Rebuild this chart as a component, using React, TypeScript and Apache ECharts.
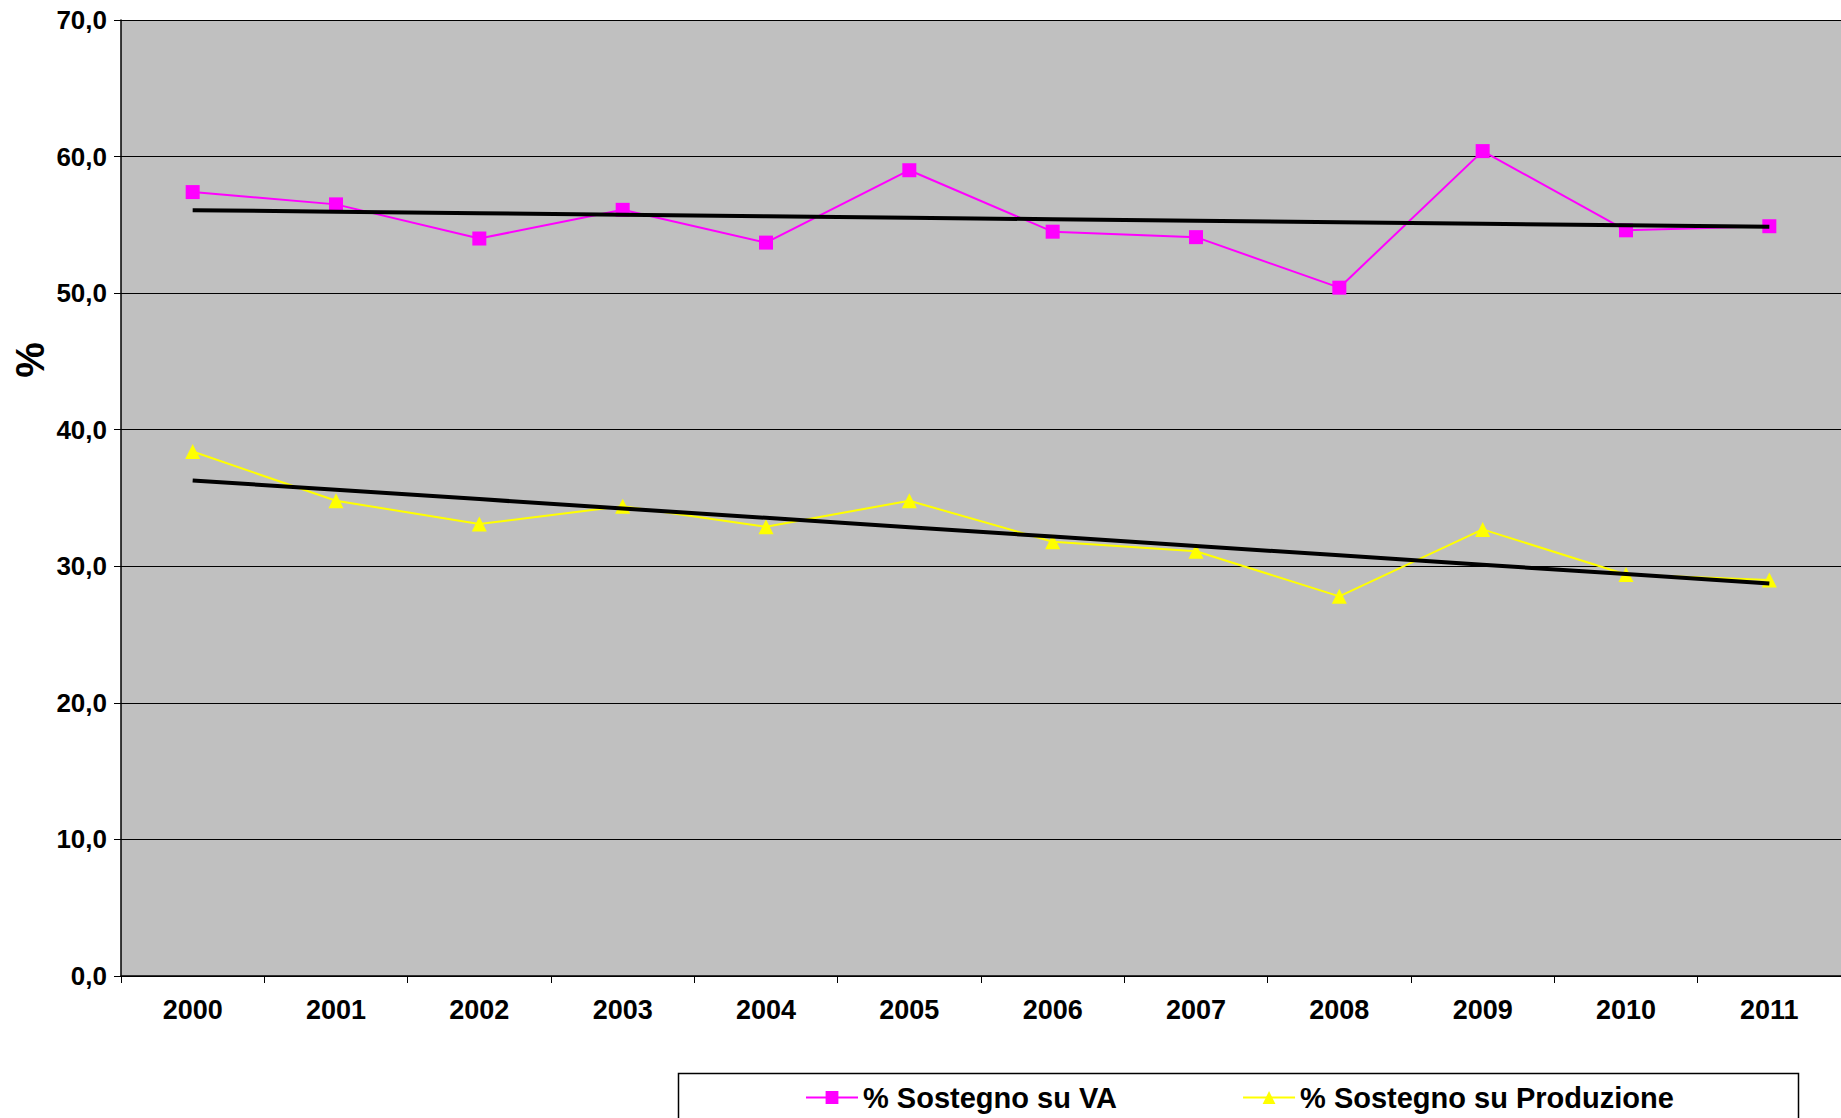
import { useEffect, useRef } from 'react';
import * as echarts from 'echarts';

const years = ['2000', '2001', '2002', '2003', '2004', '2005', '2006', '2007', '2008', '2009', '2010', '2011'];
const sostegnoVA = [57.4, 56.5, 54.0, 56.1, 53.7, 59.0, 54.5, 54.1, 50.4, 60.4, 54.6, 54.9];
const sostegnoProd = [38.4, 34.8, 33.1, 34.4, 32.9, 34.8, 31.8, 31.1, 27.8, 32.7, 29.4, 29.0];

// linear trend like Excel's trendline
function trend(v: number[]) {
  const n = v.length;
  const mx = (n - 1) / 2;
  const my = v.reduce((a, b) => a + b, 0) / n;
  let sxy = 0, sxx = 0;
  v.forEach((y, i) => { sxy += (i - mx) * (y - my); sxx += (i - mx) ** 2; });
  const b = sxy / sxx;
  return v.map((_, i) => +(my + b * (i - mx)).toFixed(3));
}

const font = 'Arial, "Liberation Sans", sans-serif';

export default function App() {
  const ref = useRef<HTMLDivElement>(null);

  useEffect(() => {
    document.body.style.margin = '0';
    if (!ref.current) return;
    const chart = echarts.init(ref.current, undefined, { renderer: 'svg' });
    chart.setOption({
      animation: false,
      backgroundColor: '#fff',
      grid: { left: 121, right: 0, top: 20, bottom: 142, backgroundColor: '#C0C0C0', show: true, borderWidth: 0 },
      xAxis: {
        type: 'category',
        data: years,
        axisLine: { lineStyle: { color: '#000', width: 1.5 } },
        axisTick: { show: true, length: 7, lineStyle: { color: '#000' } },
        axisLabel: { color: '#000', fontWeight: 'bold', fontSize: 27, fontFamily: font, margin: 20 },
      },
      yAxis: {
        type: 'value',
        min: 0,
        max: 70,
        interval: 10,
        axisLine: { show: true, lineStyle: { color: '#000', width: 1.5 } },
        axisTick: { show: true, length: 7, lineStyle: { color: '#000' } },
        axisLabel: {
          color: '#000', fontWeight: 'bold', fontSize: 26, fontFamily: font, margin: 14,
          formatter: (v: number) => v.toFixed(1).replace('.', ','),
        },
        splitLine: { lineStyle: { color: '#000', width: 1 } },
      },
      legend: {
        data: ['% Sostegno su VA', '% Sostegno su Produzione'],
        left: 800,
        top: 1078,
        itemWidth: 52,
        itemHeight: 16,
        itemGap: 125,
        textStyle: { color: '#000', fontWeight: 'bold', fontSize: 29, fontFamily: font },
      },
      graphic: [
        {
          type: 'rect', left: 676, top: 1071,
          shape: { width: 1120, height: 60 },
          style: { fill: 'none', stroke: '#000', lineWidth: 1.5 },
        },
        {
          type: 'text', x: 30, y: 360, rotation: Math.PI / 2,
          style: { text: '%', fill: '#000', font: `bold 40px ${font}`, align: 'center', verticalAlign: 'middle' },
        },
      ],
      series: [
        {
          name: '% Sostegno su VA', type: 'line', data: sostegnoVA,
          symbol: 'rect', symbolSize: 14,
          lineStyle: { color: '#FF00FF', width: 2 }, itemStyle: { color: '#FF00FF' },
        },
        {
          name: '% Sostegno su Produzione', type: 'line', data: sostegnoProd,
          symbol: 'triangle', symbolSize: 15,
          lineStyle: { color: '#FFFF00', width: 2 }, itemStyle: { color: '#FFFF00' },
        },
        {
          name: 'trendVA', type: 'line', data: trend(sostegnoVA), symbol: 'none', z: 5,
          lineStyle: { color: '#000', width: 4 },
        },
        {
          name: 'trendProd', type: 'line', data: trend(sostegnoProd), symbol: 'none', z: 5,
          lineStyle: { color: '#000', width: 4 },
        },
      ],
    });
    return () => chart.dispose();
  }, []);

  return <div ref={ref} style={{ width: 1841, height: 1118 }} />;
}
